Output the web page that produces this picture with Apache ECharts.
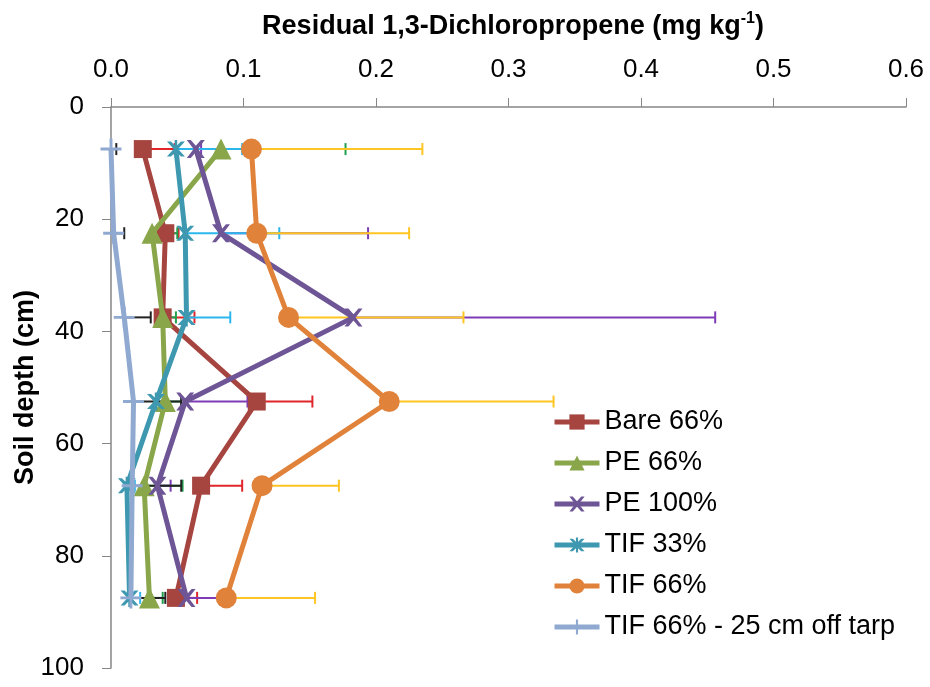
<!DOCTYPE html>
<html>
<head>
<meta charset="utf-8">
<script src="https://cdn.jsdelivr.net/npm/echarts@6/dist/echarts.min.js"></script>
<style>
  html, body { margin: 0; padding: 0; background: #fff; }
  #chart { width: 930px; height: 687px; }
</style>
</head>
<body>
<div id="chart"></div>
<script>
// Sampling depths (cm) at the middle of each soil layer
const depths = [7.5, 22.5, 37.5, 52.5, 67.5, 87.5];

// Mean residual 1,3-D (mg kg-1) per treatment
const bare66   = [0.024, 0.041, 0.039, 0.110, 0.068, 0.049];
const pe66     = [0.083, 0.031, 0.039, 0.041, 0.025, 0.029];
const pe100    = [0.064, 0.083, 0.183, 0.056, 0.035, 0.057];
const tif33    = [0.049, 0.056, 0.057, 0.034, 0.012, 0.014];
const tif66    = [0.106, 0.110, 0.134, 0.210, 0.114, 0.087];
const tif66Off = [0.000, 0.002, 0.010, 0.017, 0.016, 0.015];

// Upper error (standard error) per treatment
const bare66Err   = [0.024, 0.010, 0.024, 0.042, 0.031, 0.016];
const pe66Err     = [0.094, 0.019, 0.010, 0.012, 0.029, 0.010];
const pe100Err    = [0.004, 0.111, 0.273, 0.047, 0.010, 0.025];
const tif33Err    = [0.050, 0.071, 0.033, 0.006, 0.006, 0.008];
const tif66Err    = [0.129, 0.115, 0.132, 0.124, 0.058, 0.067];
const tif66OffErr = [0.004, 0.008, 0.020, 0.036, 0.037, 0.026];

const seriesNames = ['Bare 66%', 'PE 66%', 'PE 100%', 'TIF 33%', 'TIF 66%', 'TIF 66% - 25 cm off tarp'];
const xTicks = ['0.0', '0.1', '0.2', '0.3', '0.4', '0.5', '0.6'];

const FONT = '"Liberation Sans", Arial, sans-serif';

// Marker shapes
const SYM_X = 'path://M0,0 L2.2,0 L5,3.2 L7.8,0 L10,0 L6.2,5 L10,10 L7.8,10 L5,6.8 L2.2,10 L0,10 L3.8,5 Z';
const SYM_STAR = 'path://M0,0 L2.2,0 L5,3.2 L7.8,0 L10,0 L6.2,5 L10,10 L7.8,10 L5,6.8 L2.2,10 L0,10 L3.8,5 Z M4.3,-1 L5.7,-1 L5.7,11 L4.3,11 Z';
const SYM_PLUS = 'path://M0,4.3 L10,4.3 L10,5.7 L0,5.7 Z M4.3,0 L5.7,0 L5.7,10 L4.3,10 Z';

const styles = [
  { values: bare66,   err: bare66Err,   color: '#A6443F', errColor: '#E0262B', symbol: 'rect',     size: 18 },
  { values: pe66,     err: pe66Err,     color: '#8AA64A', errColor: '#21A04E', symbol: 'triangle', size: 21 },
  { values: pe100,    err: pe100Err,    color: '#6E5596', errColor: '#7D3CB5', symbol: SYM_X,      size: 18 },
  { values: tif33,    err: tif33Err,    color: '#3D98B0', errColor: '#2BB7EE', symbol: SYM_STAR,   size: 18 },
  { values: tif66,    err: tif66Err,    color: '#E0823A', errColor: '#FFC522', symbol: 'circle',   size: 21 },
  { values: tif66Off, err: tif66OffErr, color: '#90A9D1', errColor: '#222222', symbol: SYM_PLUS,   size: 21 }
];

const pairs = arr => arr.map((v, i) => [v, depths[i]]);

// Horizontal (plus-only) error bars with an end cap
function errorSeries(s, name) {
  return {
    type: 'custom',
    name: name,
    z: 1,
    silent: true,
    data: s.values.map((v, i) => [v, depths[i], s.err[i]]),
    renderItem: function (params, api) {
      const x = api.value(0), y = api.value(1), e = api.value(2);
      const p0 = api.coord([x, y]);
      const p1 = api.coord([x + e, y]);
      const cap = 6;
      return {
        type: 'group',
        children: [
          { type: 'line', shape: { x1: p0[0], y1: p0[1], x2: p1[0], y2: p1[1] },
            style: { stroke: s.errColor, lineWidth: 2 } },
          { type: 'line', shape: { x1: p1[0], y1: p1[1] - cap, x2: p1[0], y2: p1[1] + cap },
            style: { stroke: s.errColor, lineWidth: 2 } }
        ]
      };
    }
  };
}

const series = [];
styles.forEach((s, i) => series.push(errorSeries(s, seriesNames[i] + ' err')));
styles.forEach((s, i) => series.push({
  type: 'line',
  name: seriesNames[i],
  z: 3 + i,
  data: pairs(s.values),
  symbol: s.symbol,
  symbolSize: s.size,
  showAllSymbol: true,
  lineStyle: { color: s.color, width: 5 },
  itemStyle: { color: s.color, borderWidth: 0 },
  emphasis: { disabled: true },
  animation: false
}));

const chart = echarts.init(document.getElementById('chart'), null, { renderer: 'canvas' });
chart.setOption({
  animation: false,
  backgroundColor: '#ffffff',
  title: {
    text: '{m|Residual 1,3-Dichloropropene (mg kg}{s|-1}{m|)}',
    left: 508,
    top: 6,
    textAlign: 'center',
    textStyle: {
      rich: {
        m: { fontFamily: FONT, fontSize: 27, fontWeight: 'bold', color: '#000', lineHeight: 32 },
        s: { fontFamily: FONT, fontSize: 16, fontWeight: 'bold', color: '#000', lineHeight: 32, verticalAlign: 'top', padding: [0, 0, 12, 0] }
      }
    }
  },
  grid: { left: 111, right: 24, top: 107, bottom: 19, containLabel: false, outerBoundsMode: 'none' },
  legend: {
    orient: 'vertical',
    left: 547,
    top: 403,
    itemWidth: 45,
    itemHeight: 19,
    itemGap: 13,
    data: seriesNames,
    lineStyle: { width: 5 },
    textStyle: { fontFamily: FONT, fontSize: 27, color: '#000', lineHeight: 28 },
    selectedMode: false
  },
  xAxis: {
    type: 'value',
    position: 'top',
    min: 0,
    max: 0.6,
    interval: 0.1,
    axisLine: { show: true, lineStyle: { color: '#868686', width: 1.5 } },
    axisTick: { show: true, length: 9, lineStyle: { color: '#868686', width: 1 } },
    splitLine: { show: false },
    axisLabel: {
      fontFamily: FONT, fontSize: 26, color: '#000', margin: 24,
      formatter: v => xTicks[Math.round(v * 10)]
    }
  },
  yAxis: {
    type: 'value',
    inverse: true,
    min: 0,
    max: 100,
    interval: 20,
    name: 'Soil depth (cm)',
    nameLocation: 'middle',
    nameGap: 72,
    nameMoveOverlap: false,
    nameRotate: 90,
    nameTextStyle: { fontFamily: FONT, fontSize: 27, fontWeight: 'bold', color: '#000' },
    axisLine: { show: true, lineStyle: { color: '#868686', width: 1.5 } },
    axisTick: { show: true, length: 9, lineStyle: { color: '#868686', width: 1 } },
    splitLine: { show: false },
    axisLabel: { fontFamily: FONT, fontSize: 26, color: '#000', margin: 27 }
  },
  series: series
});
</script>
</body>
</html>
